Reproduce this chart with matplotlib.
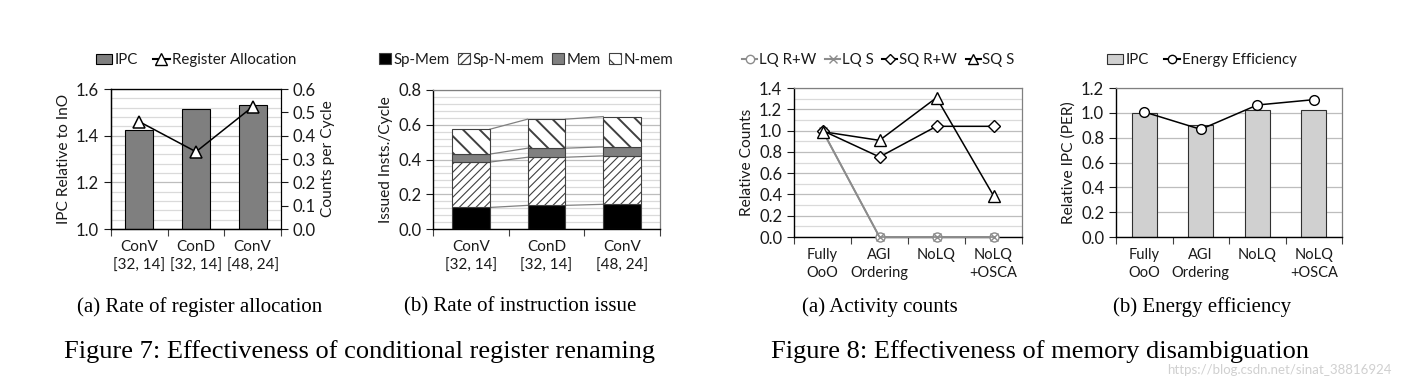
import numpy as np
import matplotlib.pyplot as plt
from matplotlib.patches import Patch
from matplotlib.lines import Line2D

plt.rcParams['font.family'] = ['Lato', 'DejaVu Sans']
plt.rcParams['hatch.linewidth'] = 0.9
plt.rcParams['hatch.color'] = 'black'

# Fig 7a: IPC relativo y asignacion de registros
cats7 = ['ConV\n[32, 14]', 'ConD\n[32, 14]', 'ConV\n[48, 24]']
ipc7 = [1.424, 1.514, 1.531]
reg_alloc = [0.46, 0.331, 0.524]

# Fig 7b: instrucciones emitidas por ciclo (apiladas)
sp_mem = [0.124, 0.136, 0.142]
sp_nmem = [0.261, 0.277, 0.279]
mem = [0.046, 0.052, 0.052]
nmem = [0.143, 0.167, 0.174]

# Fig 8a: cuentas de actividad
cats8 = ['Fully\nOoO', 'AGI\nOrdering', 'NoLQ', 'NoLQ\n+OSCA']
lq_rw = [1.0, 0.0, 0.0, 0.0]
lq_s = [1.0, 0.0, 0.0, 0.0]
sq_rw = [1.0, 0.752, 1.04, 1.04]
sq_s = [0.99, 0.908, 1.309, 0.388]

# Fig 8b: eficiencia energetica
ipc8 = [1.001, 0.899, 1.026, 1.026]
energy = [1.007, 0.867, 1.063, 1.106]

W, H = 1401, 388
fig = plt.figure(figsize=(W / 100, H / 100), dpi=100)

def box(l, t, r, b):
    return [l / W, 1 - b / H, (r - l) / W, (b - t) / H]

TXT = '#1a1a1a'
TS = 11      # etiquetas de ejes
LS = 10.8    # leyendas
YS = 11.2    # titulos de ejes

def style(ax, n, ymin, ymax, ystep, gstep, xfs=TS):
    ax.set_xlim(-0.5, n - 0.5)
    ax.set_ylim(ymin, ymax)
    ax.set_yticks(np.round(np.arange(ymin, ymax + 1e-9, ystep), 2))
    ax.yaxis.set_major_formatter(plt.FormatStrFormatter('%.1f'))
    for g in np.arange(ymin, ymax + 1e-9, gstep):
        major = abs((g - ymin) / ystep - round((g - ymin) / ystep)) < 1e-6
        ax.axhline(g, color='#bdbdbd' if major else '#dadada', lw=0.9, zorder=0)
    ax.set_xticks(np.arange(-0.5, n, 1.0))
    ax.set_xticklabels([])
    ax.set_xticks(np.arange(n), minor=True)
    ax.tick_params(axis='x', which='major', length=5, direction='out', color='#404040')
    ax.tick_params(axis='x', which='minor', length=0, pad=8, labelsize=xfs, colors=TXT)
    ax.tick_params(axis='y', length=5, direction='out', labelsize=TS + 1, colors=TXT)
    for s in ['top', 'right']:
        ax.spines[s].set_color('#808080')
        ax.spines[s].set_linewidth(0.9)
    for s in ['left', 'bottom']:
        ax.spines[s].set_color('black')
        ax.spines[s].set_linewidth(1.0)

# ---- Figura 7a ----
ax1 = fig.add_axes(box(111, 89, 281, 229))
style(ax1, 3, 1.0, 1.6, 0.2, 0.04)
ax1.set_xticklabels(cats7, minor=True, linespacing=1.4)
ax1.bar(range(3), ipc7, width=0.49, color='#7f7f7f', edgecolor='black', lw=0.8, zorder=2)
ax1.set_ylabel('IPC Relative to InO', fontsize=YS, color=TXT, labelpad=4)
ax1.spines['top'].set_color('black')
ax1r = ax1.twinx()
ax1r.set_ylim(0, 0.6)
ax1r.set_yticks(np.arange(0, 0.61, 0.1))
ax1r.yaxis.set_major_formatter(plt.FormatStrFormatter('%.1f'))
ax1r.tick_params(axis='y', length=5, direction='out', labelsize=TS + 1, colors=TXT)
ax1r.spines['right'].set_color('black')
ax1r.plot(range(3), reg_alloc, color='black', lw=1.1, marker='^', ms=9,
          mfc='white', mec='black', mew=1.1, zorder=3)
ax1r.set_ylabel('Counts per Cycle', fontsize=YS, color=TXT, labelpad=4)
h1 = [Patch(fc='#7f7f7f', ec='black', lw=0.8),
      Line2D([], [], color='black', marker='^', mfc='white', mec='black', ms=8)]
ax1.legend(h1, ['IPC', 'Register Allocation'], loc='lower center', bbox_to_anchor=(0.5, 1.06),
           ncol=2, frameon=False, fontsize=LS, handlelength=1.1, handletextpad=0.15,
           columnspacing=1.0, labelcolor=TXT)

# ---- Figura 7b ----
ax2 = fig.add_axes(box(433, 90, 660, 229))
style(ax2, 3, 0.0, 0.8, 0.2, 0.04)
ax2.set_xticklabels(cats7, minor=True, linespacing=1.4)
x = np.arange(3)
w2 = 0.5
layers = [(sp_mem, 'Sp-Mem', 'black', '', 0.9),
          (sp_nmem, 'Sp-N-mem', 'white', '////', 0.8),
          (mem, 'Mem', '#808080', '', 0.9),
          (nmem, 'N-mem', 'white', '\\\\', 1.4)]
bottom = np.zeros(3)
h2 = []
for vals, lab, fc, hat, hlw in layers:
    bars = ax2.bar(x, vals, width=w2, bottom=bottom, color=fc, edgecolor='#404040',
                   hatch=hat, lw=0.8, zorder=2)
    hp = Patch(fc=fc, ec='#404040', hatch=hat, lw=0.8)
    for p in list(bars) + [hp]:
        try:
            p.set_hatch_linewidth(hlw)
        except AttributeError:
            pass
    top = bottom + np.array(vals)
    for i in range(2):
        ax2.plot([x[i] + w2 / 2, x[i + 1] - w2 / 2], [top[i], top[i + 1]],
                 color='#808080', lw=0.9, zorder=1)
    h2.append(hp)
    bottom = top
ax2.set_ylabel('Issued Insts./Cycle', fontsize=YS, color=TXT, labelpad=4)
ax2.legend(h2, [l[1] for l in layers], loc='lower center', bbox_to_anchor=(0.41, 1.07),
           ncol=4, frameon=False, fontsize=LS, handlelength=0.8, handleheight=0.8,
           handletextpad=0.2, columnspacing=0.5, labelcolor=TXT)

# ---- Figura 8a ----
ax3 = fig.add_axes(box(794, 88, 1022, 237))
style(ax3, 4, 0.0, 1.4, 0.2, 0.1, xfs=TS - 0.5)
ax3.set_xticklabels(cats8, minor=True, linespacing=1.35)
x4 = np.arange(4)
ax3.plot(x4, lq_rw, color='#8c8c8c', lw=1.3, marker='o', ms=6.5, mfc='white', mec='#8c8c8c',
         zorder=3, clip_on=False)
ax3.plot(x4, lq_s, color='#8c8c8c', lw=1.3, marker='x', ms=6, mec='#8c8c8c', zorder=3,
         clip_on=False)
ax3.plot(x4, sq_rw, color='black', lw=1.1, marker='D', ms=6.5, mfc='white', mec='black', zorder=4)
ax3.plot(x4, sq_s, color='black', lw=1.1, marker='^', ms=9, mfc='white', mec='black', zorder=5)
ax3.set_ylabel('Relative Counts', fontsize=YS, color=TXT, labelpad=4)
h3 = [Line2D([], [], color='#8c8c8c', marker='o', mfc='white', mec='#8c8c8c', ms=6),
      Line2D([], [], color='#8c8c8c', marker='x', mec='#8c8c8c', ms=6),
      Line2D([], [], color='black', marker='D', mfc='white', mec='black', ms=5),
      Line2D([], [], color='black', marker='^', mfc='white', mec='black', ms=7)]
ax3.legend(h3, ['LQ R+W', 'LQ S', 'SQ R+W', 'SQ S'], loc='lower center',
           bbox_to_anchor=(0.37, 1.05), ncol=4, frameon=False, fontsize=LS,
           handlelength=1.0, handletextpad=0.1, columnspacing=0.6, labelcolor=TXT)

# ---- Figura 8b ----
ax4 = fig.add_axes(box(1116, 88, 1342, 237))
style(ax4, 4, 0.0, 1.2, 0.2, 0.2, xfs=TS - 0.5)
ax4.set_xticklabels(cats8, minor=True, linespacing=1.35)
ax4.bar(x4, ipc8, width=0.45, color='#d0d0d0', edgecolor='#303030', lw=0.8, zorder=2)
ax4.plot(x4, energy, color='black', lw=1.1, marker='o', ms=7, mfc='white', mec='black', zorder=3)
ax4.set_ylabel('Relative IPC (PER)', fontsize=YS, color=TXT, labelpad=4)
h4 = [Patch(fc='#d0d0d0', ec='#303030', lw=0.8),
      Line2D([], [], color='black', marker='o', mfc='white', mec='black', ms=6)]
ax4.legend(h4, ['IPC', 'Energy Efficiency'], loc='lower center', bbox_to_anchor=(0.38, 1.05),
           ncol=2, frameon=False, fontsize=LS, handlelength=1.1, handletextpad=0.15,
           columnspacing=1.0, labelcolor=TXT)

# ---- Leyendas de figura ----
serif = ['Liberation Serif', 'DejaVu Serif']
for xc, s in [(200, '(a) Rate of register allocation'), (520, '(b) Rate of instruction issue'),
              (880, '(a) Activity counts'), (1202, '(b) Energy efficiency')]:
    fig.text(xc / W, 1 - 307 / H, s, ha='center', va='center', fontsize=15, family=serif)
fig.text(360 / W, 1 - 352 / H, 'Figure 7: Effectiveness of conditional register renaming',
         ha='center', va='center', fontsize=19, family=serif)
fig.text(1040 / W, 1 - 352 / H, 'Figure 8: Effectiveness of memory disambiguation',
         ha='center', va='center', fontsize=19, family=serif)
fig.text(1392 / W, 1 - 370 / H, 'https://blog.csdn.net/sinat_38816924', ha='right', va='center',
         fontsize=9.5, color='#d0d0d0')

fig.savefig('out.png', dpi=100)
